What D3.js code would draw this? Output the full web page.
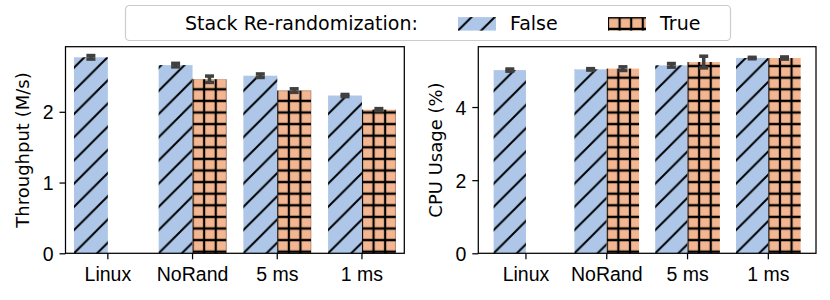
<!DOCTYPE html>
<html>
<head>
<meta charset="utf-8">
<script src="https://cdn.jsdelivr.net/npm/d3@7"></script>
<style>
  body { margin: 0; background: #fff; }
  svg { font-family: "DejaVu Sans", sans-serif; }
</style>
</head>
<body>
<svg id="chart" width="830" height="300"></svg>
<script>
const categories = ["Linux", "NoRand", "5 ms", "1 ms"]

const tputFalse = [2.77, 2.66, 2.51, 2.23]
const tputFalseErr = [0.025, 0.025, 0.025, 0.015]
const tputTrue = [null, 2.46, 2.30, 2.03]
const tputTrueErr = [null, 0.045, 0.025, 0.015]

const cpuFalse = [5.01, 5.03, 5.14, 5.34]
const cpuFalseErr = [0.03, 0.02, 0.05, 0.02]
const cpuTrue = [null, 5.05, 5.23, 5.34]
const cpuTrueErr = [null, 0.05, 0.16, 0.03]

const tputTicks = [0, 1, 2]
const cpuTicks = [0, 2, 4]

const legendTitle = "Stack Re-randomization:"
const seriesNames = ["False", "True"]

const blue = "#aec7e8"
const orange = "#f3b691"
const errColor = "#404040"

const svg = d3.select("#chart")
const defs = svg.append("defs")

// hatch "/" for False bars
const sDiag = 23.2
defs.append("pattern")
    .attr("id", "hatchDiag")
    .attr("patternUnits", "userSpaceOnUse")
    .attr("width", sDiag).attr("height", sDiag)
    .append("path")
    .attr("d", `M0,${sDiag} L${sDiag},0 M${-sDiag/4},${sDiag/4} L${sDiag/4},${-sDiag/4} M${3*sDiag/4},${5*sDiag/4} L${5*sDiag/4},${3*sDiag/4}`)
    .attr("stroke", "#000").attr("stroke-width", 2)

// hatch "++" for True bars
const sGrid = 11.6
const grid = defs.append("pattern")
    .attr("id", "hatchGrid")
    .attr("patternUnits", "userSpaceOnUse")
    .attr("x", -sGrid / 2).attr("y", -1.6 - sGrid / 2)
    .attr("width", sGrid).attr("height", sGrid)
grid.append("path")
    .attr("d", `M${sGrid/2},0 V${sGrid} M0,${sGrid/2} H${sGrid}`)
    .attr("stroke", "#000").attr("stroke-width", 2.2)

const yTop = 46.7, yBottom = 253.3

function panel(opt) {
    const g = svg.append("g")

    const x = d3.scaleBand()
        .domain(categories)
        .range([opt.x0, opt.x1])
        .paddingInner(0.2)
        .paddingOuter(opt.outer)

    const y = d3.scaleLinear()
        .domain([0, opt.ymax])
        .range([yBottom, yTop])

    const bw = x.bandwidth() / 2

    const series = [
        {vals: opt.f, errs: opt.fe, off: 0, color: blue, hatch: "hatchDiag"},
        {vals: opt.t, errs: opt.te, off: bw, color: orange, hatch: "hatchGrid"}
    ]

    series.forEach(s => {
        const bars = g.append("g").selectAll("g")
            .data(categories.map((c, i) => ({c, v: s.vals[i], e: s.errs[i]})).filter(d => d.v != null))
            .join("g")
            .attr("transform", d => `translate(${x(d.c) + s.off},${yBottom})`)
        bars.append("rect")
            .attr("x", 0).attr("width", bw)
            .attr("y", d => y(d.v) - yBottom)
            .attr("height", d => yBottom - y(d.v))
            .attr("fill", s.color)
        bars.append("rect")
            .attr("x", 0).attr("width", bw)
            .attr("y", d => y(d.v) - yBottom)
            .attr("height", d => yBottom - y(d.v))
            .attr("fill", `url(#${s.hatch})`)
    })

    // error bars
    series.forEach(s => {
        const eb = g.append("g").selectAll("g")
            .data(categories.map((c, i) => ({c, v: s.vals[i], e: s.errs[i]})).filter(d => d.v != null))
            .join("g")
            .attr("stroke", errColor)
            .attr("stroke-width", 3.5)
        const cx = d => x(d.c) + s.off + bw / 2
        eb.append("line")
            .attr("x1", cx).attr("x2", cx)
            .attr("y1", d => y(d.v - d.e)).attr("y2", d => y(d.v + d.e))
        eb.append("line")
            .attr("x1", d => cx(d) - 4.5).attr("x2", d => cx(d) + 4.5)
            .attr("y1", d => y(d.v + d.e)).attr("y2", d => y(d.v + d.e))
        eb.append("line")
            .attr("x1", d => cx(d) - 4.5).attr("x2", d => cx(d) + 4.5)
            .attr("y1", d => y(d.v - d.e)).attr("y2", d => y(d.v - d.e))
    })

    // frame
    g.append("rect")
        .attr("x", opt.x0).attr("y", yTop)
        .attr("width", opt.x1 - opt.x0).attr("height", yBottom - yTop)
        .attr("fill", "none").attr("stroke", "#000").attr("stroke-width", 1.25)

    const xAxis = g.append("g")
        .attr("transform", `translate(0,${yBottom})`)
        .call(d3.axisBottom(x).tickSize(6).tickPadding(8).tickSizeOuter(0))
    const yAxis = g.append("g")
        .attr("transform", `translate(${opt.x0},0)`)
        .call(d3.axisLeft(y).tickValues(opt.ticks).tickFormat(d3.format("d")).tickSize(6).tickPadding(6).tickSizeOuter(0))

    ;[xAxis, yAxis].forEach(a => {
        a.select(".domain").remove()
        a.selectAll("line").attr("stroke", "#000").attr("stroke-width", 1.25)
        a.selectAll("text").attr("fill", "#000").attr("font-size", 19.5)
    })
    yAxis.selectAll("text").attr("dy", "0.36em")
    xAxis.selectAll("text").attr("dy", "0.72em")

    g.append("text")
        .attr("transform", `translate(${opt.labelX},${(yTop + yBottom) / 2}) rotate(-90)`)
        .attr("text-anchor", "middle")
        .attr("dominant-baseline", "central")
        .attr("font-size", 18)
        .text(opt.label)
}

panel({x0: 65.5, x1: 404.3, outer: 0.1, ymax: 2.92, ticks: tputTicks,
    f: tputFalse, fe: tputFalseErr, t: tputTrue, te: tputTrueErr,
    label: "Throughput (M/s)", labelX: 22})

panel({x0: 478.3, x1: 816, outer: 0.19, ymax: 5.65, ticks: cpuTicks,
    f: cpuFalse, fe: cpuFalseErr, t: cpuTrue, te: cpuTrueErr,
    label: "CPU Usage (%)", labelX: 435})

// legend
const leg = svg.append("g")
leg.append("rect")
    .attr("x", 125.5).attr("y", 5.5)
    .attr("width", 605).attr("height", 35)
    .attr("rx", 4)
    .attr("fill", "#fff").attr("stroke", "#cccccc").attr("stroke-width", 1.2)
leg.append("text")
    .attr("x", 185).attr("y", 29.5)
    .attr("font-size", 19)
    .text(legendTitle)

const legX = [458, 608]
const legItems = [{color: blue, hatch: "hatchDiag"}, {color: orange, hatch: "hatchGrid"}]
legItems.forEach((it, i) => {
    const p = leg.append("g").attr("transform", `translate(${legX[i]},30.6)`)
    p.append("rect").attr("x", 0).attr("y", -13.5).attr("width", 38).attr("height", 13.5).attr("fill", it.color)
    p.append("rect").attr("x", 0).attr("y", -13.5).attr("width", 38).attr("height", 13.5).attr("fill", `url(#${it.hatch})`)
    leg.append("text")
        .attr("x", legX[i] + 52).attr("y", 29.5)
        .attr("font-size", 19)
        .text(seriesNames[i])
})
</script>
</body>
</html>
